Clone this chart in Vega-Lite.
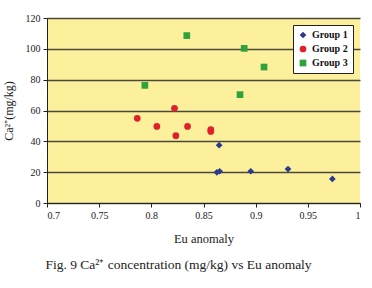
{
  "$schema": "https://vega.github.io/schema/vega-lite/v6.json",
  "autosize": "none",
  "width": 313,
  "height": 185,
  "padding": {"left": 47, "top": 18, "right": 12, "bottom": 85},
  "background": "white",
  "view": {"fill": "#FDF09C", "stroke": null},
  "title": {
    "text": "Fig. 9 Ca²⁺ concentration (mg/kg) vs Eu anomaly",
    "orient": "bottom",
    "font": "Liberation Serif",
    "fontSize": 13.5,
    "fontWeight": "normal",
    "color": "#222",
    "anchor": "middle",
    "frame": "group",
    "dx": -25,
    "offset": 13
  },
  "data": {
    "values": [
      {"eu": 0.865, "ca": 37.5, "group": "Group 1"},
      {"eu": 0.8628, "ca": 19.9, "group": "Group 1"},
      {"eu": 0.8655, "ca": 20.6, "group": "Group 1"},
      {"eu": 0.8953, "ca": 20.6, "group": "Group 1"},
      {"eu": 0.931, "ca": 22.0, "group": "Group 1"},
      {"eu": 0.9735, "ca": 15.6, "group": "Group 1"},
      {"eu": 0.7865, "ca": 54.9, "group": "Group 2"},
      {"eu": 0.8053, "ca": 49.7, "group": "Group 2"},
      {"eu": 0.8222, "ca": 61.4, "group": "Group 2"},
      {"eu": 0.8235, "ca": 43.7, "group": "Group 2"},
      {"eu": 0.8347, "ca": 49.7, "group": "Group 2"},
      {"eu": 0.857, "ca": 47.6, "group": "Group 2"},
      {"eu": 0.857, "ca": 46.4, "group": "Group 2"},
      {"eu": 0.7938, "ca": 76.3, "group": "Group 3"},
      {"eu": 0.834, "ca": 108.6, "group": "Group 3"},
      {"eu": 0.885, "ca": 70.3, "group": "Group 3"},
      {"eu": 0.889, "ca": 100.3, "group": "Group 3"},
      {"eu": 0.908, "ca": 88.2, "group": "Group 3"}
    ]
  },
  "mark": {"type": "point", "filled": true, "opacity": 1, "size": 45},
  "encoding": {
    "x": {
      "field": "eu", "type": "quantitative",
      "scale": {"domain": [0.7, 1], "nice": false, "zero": false},
      "axis": {
        "title": "Eu anomaly",
        "values": [0.7, 0.75, 0.8, 0.85, 0.9, 0.95, 1],
        "labelExpr": "datum.value == 1 ? '1' : format(datum.value, '.2~f')",
        "grid": false,
        "domainColor": "#222",
        "tickColor": "#222",
        "tickSize": 4,
        "labelFont": "Liberation Serif",
        "labelFontSize": 10,
        "labelColor": "#222",
        "labelPadding": 3,
        "titleFont": "Liberation Serif",
        "titleFontSize": 12.5,
        "titleFontWeight": "normal",
        "titleColor": "#222",
        "titlePadding": 12
      }
    },
    "y": {
      "field": "ca", "type": "quantitative",
      "scale": {"domain": [0, 120], "nice": false},
      "axis": {
        "title": "Ca²⁺(mg/kg)",
        "values": [0, 20, 40, 60, 80, 100, 120],
        "grid": true,
        "gridColor": "#4A4838",
        "gridWidth": 1.3,
        "domainColor": "#222",
        "tickColor": "#222",
        "tickSize": 4,
        "labelFont": "Liberation Serif",
        "labelFontSize": 10,
        "labelColor": "#222",
        "labelPadding": 3,
        "titleFont": "Liberation Serif",
        "titleFontSize": 12,
        "titleFontWeight": "normal",
        "titleColor": "#222",
        "titlePadding": 10
      }
    },
    "color": {
      "field": "group", "type": "nominal",
      "scale": {"domain": ["Group 1", "Group 2", "Group 3"], "range": ["#2B3A8F", "#E0202A", "#2FA33A"]},
      "legend": {
        "title": null,
        "orient": "top-right",
        "offset": 7,
        "fillColor": "white",
        "strokeColor": "#222",
        "padding": 5,
        "rowPadding": 4,
        "labelFont": "Liberation Serif",
        "labelFontSize": 10,
        "labelFontWeight": "bold",
        "labelColor": "#111",
        "symbolSize": 45
      }
    },
    "shape": {
      "field": "group", "type": "nominal",
      "scale": {"domain": ["Group 1", "Group 2", "Group 3"], "range": ["diamond", "circle", "square"]}
    }
  }
}
